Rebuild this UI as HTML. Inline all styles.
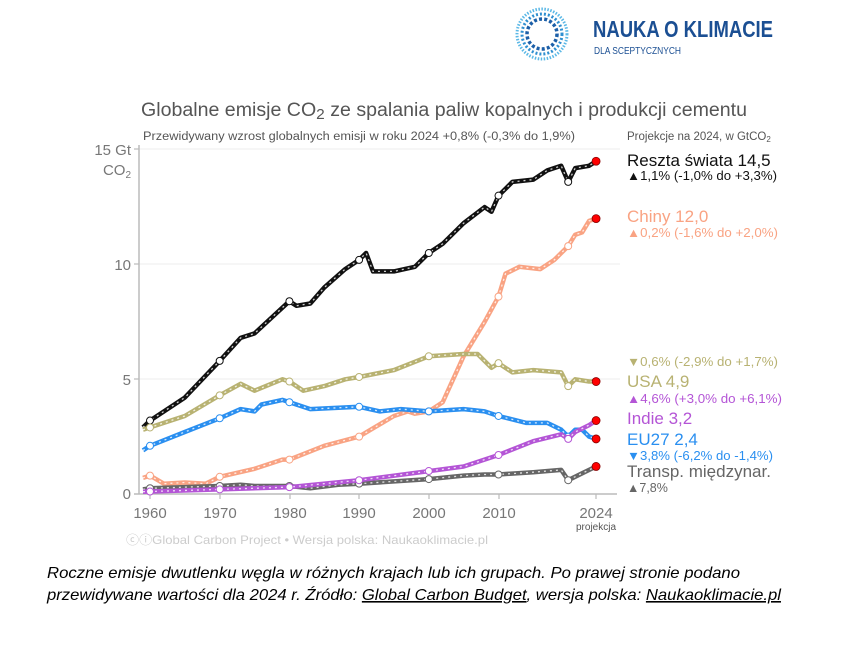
<!DOCTYPE html>
<html><head><meta charset="utf-8"><style>
html,body{margin:0;padding:0;background:#fff;}
svg{display:block;font-family:"Liberation Sans",Arial,sans-serif;}
</style></head><body>
<svg id="s" width="852" height="648" viewBox="0 0 852 648" xmlns="http://www.w3.org/2000/svg">
<g transform="translate(542,34)">
<circle r="25" fill="none" stroke="#5bb8e6" stroke-width="3" stroke-dasharray="1.5 1.5"/>
<circle r="20" fill="none" stroke="#2f8fd0" stroke-width="3" stroke-dasharray="2 2"/>
<circle r="15" fill="none" stroke="#1c5fa8" stroke-width="3.5" stroke-dasharray="3 2.2"/>
</g>
<text x="593" y="37" font-size="23" font-weight="bold" fill="#1b4f93" textLength="180" lengthAdjust="spacingAndGlyphs">NAUKA O KLIMACIE</text>
<text x="594" y="54" font-size="10" fill="#1b4f93" textLength="87" lengthAdjust="spacingAndGlyphs">DLA SCEPTYCZNYCH</text>
<text x="141" y="116" font-size="19" fill="#555" textLength="606" lengthAdjust="spacingAndGlyphs">Globalne emisje CO<tspan font-size="15" dy="3">2</tspan><tspan dy="-3"> ze spalania paliw kopalnych i produkcji cementu</tspan></text>
<text x="143" y="140" font-size="11.5" fill="#555" textLength="432" lengthAdjust="spacingAndGlyphs">Przewidywany wzrost globalnych emisji w roku 2024 +0,8% (-0,3% do 1,9%)</text>
<text x="627" y="140" font-size="11.5" fill="#555">Projekcje na 2024, w GtCO<tspan font-size="8" dy="2">2</tspan></text>
<g stroke="#eee" stroke-width="1">
<line x1="139" y1="149" x2="620" y2="149"/><line x1="139" y1="264" x2="620" y2="264"/><line x1="139" y1="379" x2="620" y2="379"/>
</g>
<line x1="139" y1="145" x2="139" y2="494" stroke="#bbb" stroke-width="1.5"/>
<line x1="134" y1="494" x2="617" y2="494" stroke="#bbb" stroke-width="1.5"/>
<g stroke="#bbb" stroke-width="1.2"><line x1="134" y1="149" x2="139" y2="149"/><line x1="134" y1="264" x2="139" y2="264"/><line x1="134" y1="379" x2="139" y2="379"/>
<line x1="150" y1="494" x2="150" y2="499"/><line x1="220" y1="494" x2="220" y2="499"/><line x1="290" y1="494" x2="290" y2="499"/><line x1="359" y1="494" x2="359" y2="499"/><line x1="429" y1="494" x2="429" y2="499"/><line x1="499" y1="494" x2="499" y2="499"/><line x1="596" y1="494" x2="596" y2="499"/></g>
<g font-size="15" fill="#777" text-anchor="end">
<text x="131" y="155">15 Gt</text><text x="131" y="175">CO<tspan font-size="10" dy="3">2</tspan></text>
<text x="131" y="270">10</text><text x="131" y="385">5</text><text x="131" y="499">0</text>
</g>
<g font-size="15" fill="#777" text-anchor="middle">
<text x="150" y="518">1960</text><text x="220" y="518">1970</text><text x="290" y="518">1980</text><text x="359" y="518">1990</text><text x="429" y="518">2000</text><text x="499" y="518">2010</text><text x="596" y="518">2024</text>
</g>
<text x="596" y="530" font-size="10" fill="#555" text-anchor="middle">projekcja</text>
<text x="126" y="544" font-size="12" fill="#ccc" textLength="362" lengthAdjust="spacingAndGlyphs">ⓒⓘGlobal Carbon Project  •  Wersja polska: Naukaoklimacie.pl</text>
<g id="series"></g>
<g font-size="12.5">
<text x="627" y="166" font-size="17" fill="#111">Reszta świata 14,5</text>
<text x="627" y="180" fill="#111" textLength="150" lengthAdjust="spacingAndGlyphs">▲1,1% (-1,0% do +3,3%)</text>
<text x="627" y="222" font-size="17" fill="#f9a383">Chiny 12,0</text>
<text x="627" y="237" fill="#f9a383" textLength="151" lengthAdjust="spacingAndGlyphs">▲0,2% (-1,6% do +2,0%)</text>
<text x="627" y="366" fill="#b8b272" textLength="151" lengthAdjust="spacingAndGlyphs">▼0,6% (-2,9% do +1,7%)</text>
<text x="627" y="387" font-size="17" fill="#b8b272">USA 4,9</text>
<text x="627" y="403" fill="#b455d6" textLength="155" lengthAdjust="spacingAndGlyphs">▲4,6% (+3,0% do +6,1%)</text>
<text x="627" y="424" font-size="17" fill="#b455d6">Indie 3,2</text>
<text x="627" y="445" font-size="17" fill="#2a8ff0">EU27 2,4</text>
<text x="627" y="460" fill="#2a8ff0" textLength="146" lengthAdjust="spacingAndGlyphs">▼3,8% (-6,2% do -1,4%)</text>
<text x="627" y="477" font-size="17" fill="#666">Transp. międzynar.</text>
<text x="627" y="492" fill="#666">▲7,8%</text>
</g>
<g font-size="16" font-style="italic" fill="#000">
<text x="47" y="578" textLength="693" lengthAdjust="spacingAndGlyphs">Roczne emisje dwutlenku węgla w różnych krajach lub ich grupach. Po prawej stronie podano</text>
<text x="47" y="600" textLength="734" lengthAdjust="spacingAndGlyphs">przewidywane wartości dla 2024 r. Źródło: <tspan text-decoration="underline">Global Carbon Budget</tspan>, wersja polska: <tspan text-decoration="underline">Naukaoklimacie.pl</tspan></text>
</g>
</svg>
<script>
const X=y=>150+(y-1960)*6.97, Y=v=>494-22.95*v;
const S=[
["#111",[[1959,2.9],[1960,3.2],[1965,4.2],[1970,5.8],[1973,6.8],[1975,7.0],[1980,8.4],[1981,8.2],[1983,8.3],[1985,9.0],[1988,9.8],[1990,10.2],[1991,10.5],[1992,9.7],[1995,9.7],[1998,9.9],[2000,10.5],[2002,10.9],[2005,11.8],[2008,12.5],[2009,12.3],[2010,13.0],[2012,13.6],[2015,13.7],[2017,14.1],[2019,14.3],[2020,13.6],[2021,14.2],[2023,14.3],[2024,14.5]]],
["#f9a383",[[1959,0.7],[1960,0.8],[1962,0.45],[1965,0.5],[1968,0.45],[1970,0.75],[1975,1.1],[1979,1.5],[1980,1.5],[1985,2.1],[1990,2.5],[1995,3.4],[1997,3.6],[1998,3.5],[2000,3.6],[2002,4.0],[2005,6.0],[2008,7.5],[2010,8.6],[2011,9.6],[2013,9.9],[2016,9.8],[2018,10.2],[2020,10.8],[2021,11.3],[2022,11.4],[2023,11.9],[2024,12.0]]],
["#b8b272",[[1959,2.8],[1960,2.9],[1965,3.4],[1970,4.3],[1973,4.8],[1975,4.5],[1979,5.0],[1980,4.9],[1982,4.5],[1985,4.7],[1988,5.0],[1990,5.1],[1995,5.4],[2000,6.0],[2005,6.1],[2007,6.1],[2009,5.5],[2010,5.7],[2012,5.3],[2015,5.4],[2019,5.3],[2020,4.7],[2021,5.0],[2023,4.9],[2024,4.9]]],
["#2a8ff0",[[1959,1.9],[1960,2.1],[1965,2.7],[1970,3.3],[1973,3.7],[1975,3.6],[1976,3.9],[1979,4.1],[1980,4.0],[1983,3.7],[1990,3.8],[1993,3.6],[1996,3.7],[2000,3.6],[2005,3.7],[2008,3.6],[2010,3.4],[2014,3.1],[2017,3.1],[2019,2.8],[2020,2.5],[2021,2.8],[2022,2.8],[2023,2.5],[2024,2.4]]],
["#666",[[1959,0.2],[1960,0.25],[1970,0.35],[1973,0.4],[1975,0.35],[1980,0.35],[1983,0.25],[1987,0.4],[1990,0.45],[2000,0.65],[2005,0.8],[2008,0.85],[2010,0.85],[2015,0.95],[2019,1.05],[2020,0.6],[2022,0.9],[2024,1.2]]],
["#b455d6",[[1959,0.1],[1970,0.2],[1980,0.3],[1990,0.6],[2000,1.0],[2005,1.2],[2010,1.7],[2015,2.3],[2019,2.6],[2020,2.4],[2021,2.7],[2023,3.0],[2024,3.2]]]
];
function val(p,y){for(let i=1;i<p.length;i++)if(p[i][0]>=y){const a=p[i-1],b=p[i];return a[1]+(b[1]-a[1])*(y-a[0])/(b[0]-a[0]);}return p[p.length-1][1];}
let h="";
for(const [c,p] of S){const d=p.map((q,i)=>(i?"L":"M")+X(q[0]).toFixed(1)+","+Y(q[1]).toFixed(1)).join("");
h+=`<path d="${d}" fill="none" stroke="${c}" stroke-width="4.5" stroke-linejoin="round"/>`;
h+=`<path d="${d}" fill="none" stroke="#fff" stroke-width="1.3" stroke-dasharray="2 4" opacity="0.8"/>`;
for(const y of [1960,1970,1980,1990,2000,2010,2020])h+=`<circle cx="${X(y)}" cy="${Y(val(p,y))}" r="3.5" fill="#fff" stroke="${c}" stroke-width="1"/>`;
h+=`<circle cx="${X(2024)}" cy="${Y(p[p.length-1][1])}" r="4" fill="#f00" stroke="#800" stroke-width="0.8"/>`;}
document.getElementById("series").innerHTML=h;
</script>
</body></html>
